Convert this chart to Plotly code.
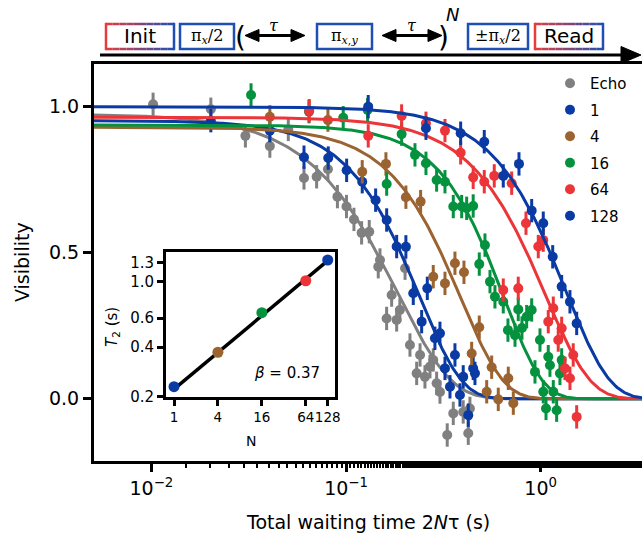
import numpy as np
import plotly.graph_objects as go

# ---------------- data ----------------
series_names = ["Echo", "1", "4", "16", "64", "128"]
series_colors = ["#808080", "#0a3aa3", "#9b6330", "#05923f", "#ec3538", "#0a3aa3"]

echo_t = [0.0102, 0.0202, 0.0304, 0.0406, 0.0505, 0.0608, 0.0706, 0.0807, 0.0903, 0.1005,
          0.1098, 0.1202, 0.1316, 0.1494, 0.1464, 0.1715, 0.1616, 0.182, 0.189, 0.201,
          0.213, 0.240, 0.2306, 0.2543, 0.270, 0.292, 0.2806, 0.3556, 0.400, 0.433,
          0.331, 0.4246, 0.3038]
echo_v = [1.008, 0.991, 0.900, 0.865, 0.922, 0.756, 0.760, 0.786, 0.692, 0.658,
          0.614, 0.568, 0.572, 0.475, 0.452, 0.355, 0.275, 0.270, 0.304, 0.447,
          0.184, 0.150, 0.087, 0.075, 0.110, 0.053, 0.133, -0.050, -0.045, -0.033,
          -0.124, -0.118, 0.023]

n1_t = [0.0202, 0.0406, 0.0608, 0.081, 0.1007, 0.1211, 0.1419, 0.1617, 0.182, 0.203,
        0.2215, 0.2615, 0.2446, 0.2862, 0.3038, 0.3627, 0.3223, 0.342, 0.400, 0.450,
        0.4596, 0.3848, 0.4246]
n1_v = [0.952, 0.918, 0.827, 0.824, 0.782, 0.743, 0.680, 0.612, 0.521, 0.520,
        0.361, 0.378, 0.264, 0.207, 0.224, 0.150, 0.104, 0.041, 0.075, 0.104,
        0.087, 0.013, -0.056]

n4_t = [0.0406, 0.0807, 0.1211, 0.1603, 0.203, 0.2416, 0.2806, 0.3223, 0.3627, 0.4035,
        0.4836, 0.442, 0.560, 0.6817, 0.528, 0.6055, 0.7234]
n4_v = [0.965, 0.954, 0.777, 0.804, 0.690, 0.675, 0.418, 0.395, 0.464, 0.433,
        0.245, 0.155, 0.108, 0.070, 0.024, -0.002, -0.015]

n16_t = [0.0325, 0.0645, 0.0967, 0.129, 0.1617, 0.193, 0.226, 0.2574, 0.292, 0.3223,
         0.3556, 0.3927, 0.4166, 0.450, 0.5173, 0.4836, 0.549, 0.5822, 0.6424, 0.767,
         0.899, 0.8474, 0.679, 0.738, 0.8014, 0.9917, 1.094, 1.116, 0.935, 1.031,
         1.161, 1.256, 1.282, 1.065, 1.208]
n16_v = [1.040, 0.983, 0.962, 0.989, 0.735, 0.906, 0.835, 0.806, 0.749, 0.743,
         0.658, 0.658, 0.652, 0.660, 0.526, 0.461, 0.401, 0.349, 0.332, 0.306,
         0.304, 0.281, 0.235, 0.218, 0.242, 0.201, 0.144, 0.115, 0.092, 0.024,
         0.024, 0.087, 0.133, -0.033, -0.039]

n64_t = [0.0647, 0.130, 0.193, 0.2574, 0.3223, 0.388, 0.450, 0.513, 0.5774, 0.7096,
         0.6424, 0.767, 0.8404, 0.972, 1.031, 1.161, 1.094, 1.282, 1.231, 1.47,
         1.333, 1.414, 1.531]
n64_v = [0.986, 0.900, 0.968, 0.943, 0.918, 0.842, 0.758, 0.743, 0.763, 0.738,
         0.372, 0.378, 0.601, 0.521, 0.543, 0.310, 0.264, 0.241, 0.201, 0.150,
         0.104, 0.070, -0.062]

n128_t = [0.130, 0.2574, 0.388, 0.513, 0.6424, 0.7736, 0.899, 1.031, 1.153, 1.282,
          1.414, 1.531]
n128_v = [1.000, 0.926, 0.909, 0.880, 0.763, 0.804, 0.644, 0.601, 0.486, 0.384,
          0.332, 0.258]

series_t = [echo_t, n1_t, n4_t, n16_t, n64_t, n128_t]
series_v = [echo_v, n1_v, n4_v, n16_v, n64_v, n128_v]
series_err = [0.04, 0.04, 0.04, 0.04, 0.04, 0.04]

# stretched-exponential fit parameters  V = A exp(-(t/T2)^n)
fit_amp = [0.975, 0.952, 0.930, 0.937, 0.964, 1.000]
fit_T2 = [0.185, 0.238, 0.390, 0.649, 1.060, 1.350]
fit_n = [1.6, 2.0, 2.0, 2.2, 1.9, 1.95]

# inset: T2 vs N
inset_N = [1, 4, 16, 64, 128]
inset_T2 = [0.230, 0.372, 0.647, 1.01, 1.35]
inset_colors = ["#0a3aa3", "#9b6330", "#05923f", "#ec3538", "#0a3aa3"]
inset_beta = 0.37
inset_pref = 0.222

main_xticks = [0.01, 0.1, 1.0]
main_xticktext = ["10<sup>\u22122</sup>", "10<sup>\u22121</sup>", "10<sup>0</sup>"]
main_yticks = [0.0, 0.5, 1.0]
main_yticktext = ["0.0", "0.5", "1.0"]
inset_xticks = [1, 4, 16, 64, 128]
inset_yticks = [0.2, 0.4, 0.6, 1.0, 1.3]
inset_yticktext = ["0.2", "0.4", "0.6", "1.0", "1.3"]

# ---------------- layout geometry ----------------
W, H = 642, 535
ML, MR, MT, MB = 94, 0, 64, 74
PW = W - ML - MR
PH = H - MT - MB


def px(x):
    return (x - ML) / PW


def py(y):
    return (H - MB - y) / PH


FONT = "DejaVu Sans"
fig = go.Figure()

tgrid = np.logspace(-2.35, 0.6, 400)
for name, col, t, v, e, A, T, n in zip(series_names, series_colors, series_t, series_v,
                                        series_err, fit_amp, fit_T2, fit_n):
    fig.add_trace(go.Scatter(
        x=t, y=v, mode="markers", name=name, legendgroup=name,
        marker=dict(color=col, size=10, line=dict(width=0)),
        error_y=dict(type="constant", value=e, thickness=3, width=0, color=col),
        showlegend=True))
    fig.add_trace(go.Scatter(
        x=tgrid, y=A * np.exp(-(tgrid / T) ** n), mode="lines", legendgroup=name,
        line=dict(color=col, width=3), showlegend=False, hoverinfo="skip"))

# inset
Ngrid = np.array([1.0, 128.0])
fig.add_trace(go.Scatter(x=Ngrid, y=inset_pref * Ngrid ** inset_beta, mode="lines",
                         line=dict(color="black", width=3.5), xaxis="x2", yaxis="y2",
                         showlegend=False))
fig.add_trace(go.Scatter(x=inset_N, y=inset_T2, mode="markers",
                         marker=dict(color=inset_colors, size=11), xaxis="x2", yaxis="y2",
                         showlegend=False))

axis_common = dict(showline=True, linewidth=3, linecolor="black", ticks="outside",
                   tickcolor="black", showgrid=False, zeroline=False, automargin=False)

shapes = []
annotations = []


def label(x, y, text, size, family=FONT, angle=0):
    annotations.append(dict(x=px(x), y=py(y), xref="paper", yref="paper", text=text,
                            xanchor="center", yanchor="middle", textangle=angle,
                            showarrow=False, font=dict(size=size, family=family, color="black")))


# axis titles and inset texts
label(22, 262, "Visibility", 19, angle=-90)
label(368, 522, "Total waiting time 2<i>N</i>\u03c4 (s)", 19)
label(112, 327, "<i>T</i><sub>2</sub> (s)", 15, angle=-90)
label(251, 441, "N", 14)
label(287, 373, "<i>\u03b2</i> = 0.37", 15)

# ---------------- pulse-sequence diagram ----------------
RED = "#e83b3b"
BLUE = "#1f4fb5"
by0, by1 = 24, 49


def hexmix(c1, c2, f):
    a = [int(c1[i:i + 2], 16) for i in (1, 3, 5)]
    b = [int(c2[i:i + 2], 16) for i in (1, 3, 5)]
    return "#%02x%02x%02x" % tuple(int(round(a[k] + (b[k] - a[k]) * f)) for k in range(3))


def line(x0, y0, x1, y1, color, w):
    shapes.append(dict(type="line", xref="paper", yref="paper", x0=px(x0), y0=py(y0),
                       x1=px(x1), y1=py(y1), line=dict(color=color, width=w)))


def box(x0, x1, grad):
    if grad:
        nseg = 10
        for k in range(nseg):
            xa = x0 + (x1 - x0) * k / nseg
            xb = x0 + (x1 - x0) * (k + 1) / nseg
            c = hexmix(RED, BLUE, (k + 0.5) / nseg)
            line(xa, by0, xb, by0, c, 2.5)
            line(xa, by1, xb, by1, c, 2.5)
        line(x0, by0 - 1.2, x0, by1 + 1.2, RED, 2.5)
        line(x1, by0 - 1.2, x1, by1 + 1.2, BLUE, 2.5)
    else:
        shapes.append(dict(type="rect", xref="paper", yref="paper", x0=px(x0), y0=py(by1),
                           x1=px(x1), y1=py(by0), line=dict(color=BLUE, width=2.5)))


def tri(xt, y, direction, L, h):
    xb = xt - direction * L
    path = "M %f %f L %f %f L %f %f Z" % (px(xt), py(y), px(xb), py(y - h), px(xb), py(y + h))
    shapes.append(dict(type="path", xref="paper", yref="paper", path=path,
                       fillcolor="black", line=dict(color="black", width=1)))


box(106, 174, True)
label(140, 36.5, "Init", 20)
box(180, 234, False)
label(207, 36.5, "\u03c0<sub><i>x</i></sub>/2", 16, "DejaVu Serif")
label(240, 37, "(", 28)
line(255, 35.5, 295, 35.5, "black", 3)
tri(245, 35.5, -1, 14, 6)
tri(305, 35.5, 1, 14, 6)
label(274, 25, "<i>\u03c4</i>", 16, "DejaVu Serif")
box(317, 372, False)
label(344.5, 36.5, "\u03c0<sub><i>x</i>,<i>y</i></sub>", 16, "DejaVu Serif")
line(392, 35.5, 432, 35.5, "black", 3)
tri(382, 35.5, -1, 14, 6)
tri(442, 35.5, 1, 14, 6)
label(412, 25, "<i>\u03c4</i>", 16, "DejaVu Serif")
label(443, 37, ")", 28)
label(452, 15, "<i>N</i>", 18)
box(468, 528, False)
label(498, 36.5, "\u00b1\u03c0<sub><i>x</i></sub>/2", 16, "DejaVu Serif")
box(535, 603, True)
label(569, 36.5, "Read", 20)
line(100, 55, 626, 55, "black", 3)
tri(641, 55, 1, 20, 8.5)

fig.update_layout(
    width=W, height=H,
    margin=dict(l=ML, r=MR, t=MT, b=MB, pad=0, autoexpand=False),
    paper_bgcolor="white", plot_bgcolor="white",
    font=dict(family=FONT, color="black"),
    xaxis=dict(type="log", range=[-2.295, 0.5206], mirror=True,
               tickvals=main_xticks, ticktext=main_xticktext, ticklen=8, tickwidth=2.5,
               tickfont=dict(size=19), domain=[0, 1],
               minor=dict(ticks="outside", ticklen=4, tickwidth=1.5, tickcolor="black", showgrid=False),
               **axis_common),
    yaxis=dict(range=[-0.213, 1.146], tickvals=main_yticks, ticktext=main_yticktext,
               ticklen=8, tickwidth=2.5, tickfont=dict(size=19), domain=[0, 1],
               **axis_common),
    xaxis2=dict(type="log", range=[-0.1097, 2.207], anchor="y2", mirror=True,
                domain=[px(166), px(335)], tickvals=inset_xticks, tickangle=0,
                ticktext=[str(v) for v in inset_xticks], ticklen=6, tickwidth=2.5,
                tickfont=dict(size=13.5), **axis_common),
    yaxis2=dict(type="log", range=[-0.7009, 0.1806], anchor="x2", mirror=True,
                domain=[py(397), py(251.7)], tickvals=inset_yticks, ticktext=inset_yticktext,
                ticklen=6, tickwidth=2.5, tickfont=dict(size=15), **axis_common),
    legend=dict(x=px(550), y=py(67), xanchor="left", yanchor="top",
                bgcolor="rgba(0,0,0,0)", font=dict(size=15, family=FONT, color="black"),
                itemwidth=30, tracegroupgap=4),
    shapes=shapes, annotations=annotations,
)

fig.write_html("out.html")
